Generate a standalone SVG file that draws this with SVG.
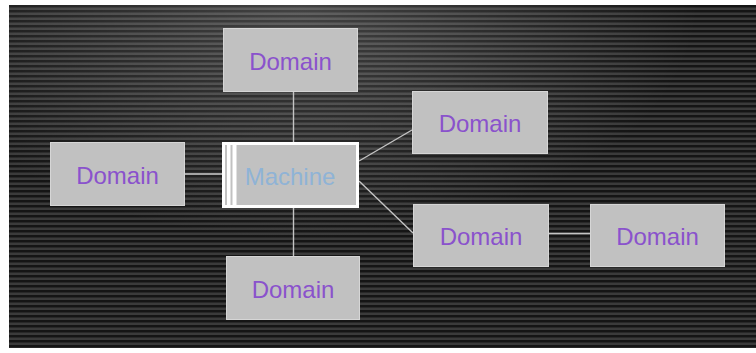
<svg xmlns="http://www.w3.org/2000/svg" width="756" height="353" viewBox="0 0 756 353">
  <defs>
    <pattern id="stripes" x="0" y="5" width="8" height="5" patternUnits="userSpaceOnUse">
      <rect width="8" height="5" fill="#151515"/>
      <rect y="2.5" width="8" height="2.5" fill="#3b3b3b"/>
    </pattern>
    <radialGradient id="glow" cx="300" cy="0" r="400" gradientUnits="userSpaceOnUse" gradientTransform="scale(1 0.6)">
      <stop offset="0" stop-color="#ffffff" stop-opacity="0.2"/>
      <stop offset="1" stop-color="#ffffff" stop-opacity="0"/>
    </radialGradient>
    <style>
      .domain rect { fill: #c1c1c1; stroke: #d6d6d6; stroke-width: 1; }
      .domain text { font-family: "Liberation Sans", Arial, sans-serif; font-size: 24px; fill: #8a52cc; text-anchor: middle; }
      .link { stroke: #c4c4c4; stroke-width: 1.4; fill: none; }
      .machine text { font-family: "Liberation Sans", Arial, sans-serif; font-size: 24px; fill: #8fb3d6; text-anchor: middle; }
    </style>
  </defs>

  <!-- striped backdrop -->
  <rect width="756" height="353" fill="#ffffff"/>
  <rect x="9" y="5" width="747" height="343" fill="url(#stripes)"/>
  <rect x="9" y="5" width="747" height="343" fill="url(#glow)"/>

  <!-- connectors -->
  <g id="connectors">
    <line class="link" x1="293.5" y1="92" x2="293.5" y2="142"/>
    <line class="link" x1="185" y1="174" x2="222" y2="174"/>
    <line class="link" x1="293.5" y1="208" x2="293.5" y2="256"/>
    <line class="link" x1="359" y1="161" x2="412" y2="130"/>
    <line class="link" x1="359" y1="181" x2="413" y2="233"/>
    <line class="link" x1="549" y1="233.5" x2="590" y2="233.5"/>
  </g>

  <!-- central machine -->
  <g id="machine" class="machine">
    <rect x="223.5" y="143.5" width="134" height="63" fill="#c1c1c1" stroke="#ffffff" stroke-width="3"/>
    <rect x="227" y="145" width="3.5" height="60" fill="#ffffff"/>
    <rect x="232.5" y="145" width="4" height="60" fill="#ffffff"/>
    <text x="290" y="185">Machine</text>
  </g>

  <!-- domains -->
  <g id="domain-top" class="domain">
    <rect x="223.5" y="28.5" width="134" height="63"/>
    <text x="290.5" y="70">Domain</text>
  </g>
  <g id="domain-left" class="domain">
    <rect x="50.5" y="142.5" width="134" height="63"/>
    <text x="117.5" y="184">Domain</text>
  </g>
  <g id="domain-upper-right" class="domain">
    <rect x="412.5" y="91.5" width="135" height="62"/>
    <text x="480" y="132">Domain</text>
  </g>
  <g id="domain-lower-right" class="domain">
    <rect x="413.5" y="204.5" width="135" height="62"/>
    <text x="481" y="245">Domain</text>
  </g>
  <g id="domain-far-right" class="domain">
    <rect x="590.5" y="204.5" width="134" height="62"/>
    <text x="657.5" y="245">Domain</text>
  </g>
  <g id="domain-bottom" class="domain">
    <rect x="226.5" y="256.5" width="133" height="63"/>
    <text x="293" y="298">Domain</text>
  </g>
</svg>
